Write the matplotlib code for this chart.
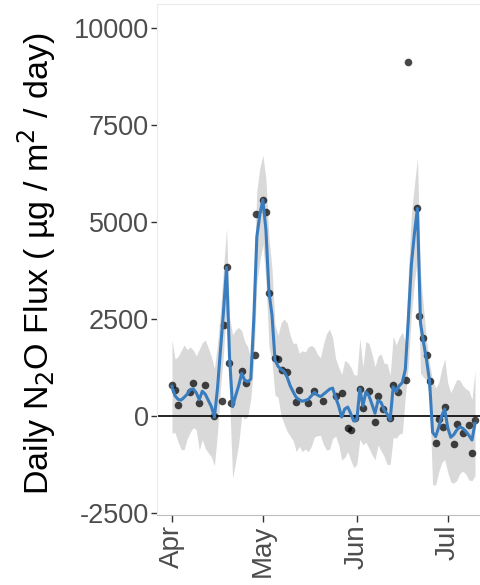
import numpy as np
import pandas as pd
import matplotlib
matplotlib.use("Agg")
import matplotlib.pyplot as plt
import matplotlib.dates as mdates

plt.rcParams['font.family'] = ['Liberation Sans', 'DejaVu Sans']
plt.rcParams['axes.unicode_minus'] = False

# measured chamber fluxes (day offset from 1 April, ug N2O / m2 / day)
obs_day = [0, 1, 2, 6, 7, 9, 11, 14, 16.6, 17, 18, 18.7, 19.5, 23, 24.4, 27.4, 27.7,
           30, 31, 32, 34, 35, 36.3, 38, 41, 42, 45, 47, 50, 54, 56, 58, 59, 60.5,
           62, 63, 65, 67, 68, 69.6, 72, 73, 74.5, 77.3, 78, 81, 81.5, 83, 84, 85,
           87, 88, 89.5, 90, 93, 94, 96, 98, 99, 100]
obs_flux = [800, 680, 280, 620, 860, 330, 800, 0, 390, 2340, 3830, 1370, 330, 1170, 850,
            1570, 5200, 5570, 5270, 3180, 1490, 1480, 1190, 1130, 370, 660, 340, 650,
            390, 515, 600, -310, -370, -60, 700, 200, 650, -160, 520, 180, -40, 790,
            630, 940, 9115, 5350, 2580, 2010, 1580, 895, -690, -70, -275, 240, -725,
            -205, -440, -240, -950, -115]

# daily gap-filled flux (mean) and half width of its band
daily_flux = [760, 520, 430, 410, 480, 560, 680, 700, 600, 420,
              640, 560, 400, 240, -30, 700, 1700, 2700, 3830, 1500,
              240, 520, 780, 1100, 920, 880, 950, 2500, 4620, 5200,
              5570, 4800, 3200, 2600, 1440, 1280, 1200, 1150, 1000, 780,
              620, 480, 420, 380, 400, 430, 520, 610, 540, 500,
              560, 625, 690, 720, 480, 260, -30, 180, 230, 60,
              -130, -100, 700, 260, 620, 520, 300, 70, 400, 350,
              160, 50, -100, 750, 630, 780, 860, 1200, 2500, 3900,
              4700, 5350, 2400, 1900, 1450, 900, -420, -530, -300, 0,
              180, -300, -550, -480, -360, -280, -320, -400, -500, -620,
              -190]
band_half = [1200, 950, 1100, 1270, 1350, 1150, 1100, 1000, 950, 1300,
             1250, 1400, 1350, 1300, 1250, 1150, 1000, 1100, 1000, 1050,
             1850, 1700, 1500, 1100, 1000, 900, 500, 1100, 1200, 1200,
             1150, 1300, 1400, 1200, 900, 800, 1200, 1350, 1400, 1300,
             1250, 1400, 1200, 1300, 1250, 1350, 1300, 1150, 1050, 1000,
             1300, 1500, 1550, 1300, 1000, 1000, 1100, 1250, 1150, 1200,
             1200, 1150, 1300, 1000, 1300, 1350, 1300, 1200, 1150, 1250,
             1200, 1300, 1150, 1300, 1200, 1250, 1300, 700, 1200, 1300,
             1250, 1300, 1300, 900, 520, 450, 1350, 1250, 1150, 1200,
             1300, 1150, 1150, 1250, 1300, 1200, 1100, 1100, 1150, 1050,
             1350]

start = pd.Timestamp("2019-04-01")
obs_dates = start + pd.to_timedelta(obs_day, unit="D")
daily_dates = pd.date_range(start, periods=len(daily_flux), freq="D")
mean = np.array(daily_flux, dtype=float)
half = np.array(band_half, dtype=float)

fig = plt.figure(figsize=(4.81, 5.85), dpi=100)
ax = fig.add_axes([157 / 481, 70 / 585, 324 / 481, 511 / 585])

ax.fill_between(daily_dates, mean - half, mean + half, color="#D9D9D9", lw=0, zorder=1)
ax.axhline(0, color="black", lw=1.2, zorder=2)
ax.scatter(obs_dates, obs_flux, s=30, color="black", alpha=0.72, lw=0, zorder=3)
ax.plot(daily_dates, mean, color="#3A7DBF", lw=2.2, zorder=4)

ax.set_ylim(-2552, 10619)
ax.set_yticks([-2500, 0, 2500, 5000, 7500, 10000])
ax.set_xlim(start - pd.Timedelta(days=4.95), start + pd.Timedelta(days=101.98))
ax.xaxis.set_major_locator(mdates.MonthLocator())
ax.xaxis.set_major_formatter(mdates.DateFormatter("%b"))

ax.tick_params(axis="y", labelsize=19.5, colors="#333333", labelcolor="#4D4D4D",
               length=4, width=1, pad=2)
ax.tick_params(axis="x", labelsize=20, colors="#333333", labelcolor="#4D4D4D",
               length=5, width=1, pad=2, labelrotation=90)

for side in ["top", "left"]:
    ax.spines[side].set_color("#EBEBEB")
ax.spines["right"].set_visible(False)
ax.spines["bottom"].set_color("#BDBDBD")

fig.text(37 / 481, 1 - 264 / 585, "Daily N$_2$O Flux ( \u00b5g / m$^2$ / day)",
         rotation=90, ha="center", va="center", fontsize=24.5, color="black")

fig.savefig("out.png", dpi=100)
